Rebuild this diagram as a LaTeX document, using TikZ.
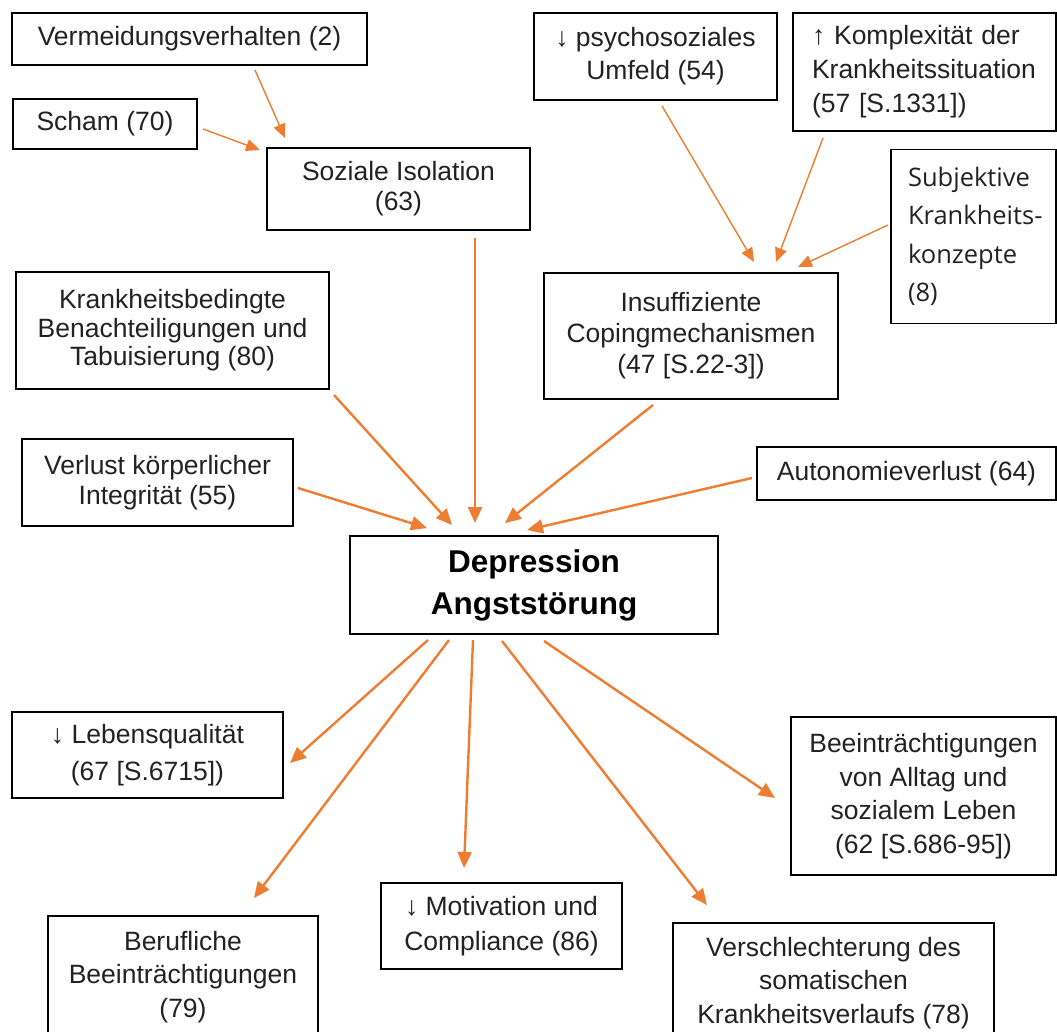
\documentclass[tikz,border=0pt]{standalone}
\usepackage{fontspec}
\setmainfont{Liberation Sans}
\newfontfamily\subjfont{Open Sans}
\usetikzlibrary{arrows.meta}
\definecolor{arrowor}{RGB}{237,125,49}
\definecolor{txt}{RGB}{34,34,34}
\begin{document}
\begin{tikzpicture}[x=1pt,y=-1pt,
  box/.style={draw=black,line width=1.3pt,inner sep=0pt,align=center,text=txt,
              font=\fontsize{26.5}{32}\selectfont},
  lbox/.style={box,align=left},
  arr/.style={draw=arrowor,line width=2.4pt,-{Triangle[length=16pt,width=14pt]}},
  sarr/.style={draw=arrowor,line width=1.4pt,-{Triangle[length=14pt,width=12pt]}}]
\useasboundingbox[fill=white] (0,0) rectangle (1057,1031);

% ---------- boxes ----------
\node[box,minimum width=355pt,minimum height=52pt] (verm) at (189.5,39) {Vermeidungsverhalten (2)};
\node[box,minimum width=184pt,minimum height=50pt] (scham) at (105,124) {Scham (70)};
\node[box,minimum width=263pt,minimum height=82pt,font=\fontsize{26.5}{30}\selectfont] (soz) at (398.5,189) {Soziale Isolation\\(63)};
\node[box,minimum width=243pt,minimum height=87pt,font=\fontsize{26.5}{33}\selectfont] (psy) at (655.5,56.5) {↓ psychosoziales\\Umfeld (54)};
\node[lbox,minimum width=263pt,minimum height=118pt,text width=225pt,inner xsep=19pt,font=\fontsize{26.5}{34}\selectfont] (kom) at (924.5,72) {↑ Komplexität der\\Krankheitssituation\\(57 [S.1331])};
\node[lbox,minimum width=165pt,minimum height=174pt,text width=131pt,inner xsep=17pt,font=\subjfont\fontsize{25.5}{38.5}\selectfont] (subj) at (973.5,236.5) {\mbox{Subjektive}\\\mbox{Krankheits-}\\\mbox{konzepte}\\\mbox{(8)}};
\node[box,minimum width=313pt,minimum height=117pt,font=\fontsize{26.5}{28.5}\selectfont] (krank) at (172.5,330.5) {Krankheitsbedingte\\Benachteiligungen und\\Tabuisierung (80)};
\node[box,minimum width=294pt,minimum height=126pt,font=\fontsize{26.5}{31}\selectfont] (insuf) at (691,336) {Insuffiziente\\Copingmechanismen\\(47 [S.22-3])};
\node[box,minimum width=271pt,minimum height=87pt,font=\fontsize{26.5}{30}\selectfont] (verl) at (157.5,482.5) {Verlust körperlicher\\Integrität (55)};
\node[box,minimum width=299pt,minimum height=53pt] (auto) at (906.5,473.5) {Autonomieverlust (64)};
\node[box,minimum width=368pt,minimum height=98pt,font=\bfseries\fontsize{31.5}{42}\selectfont,text=black] (dep) at (534,585) {Depression\\Angststörung};
\node[box,minimum width=271pt,minimum height=86pt,font=\fontsize{26.5}{37}\selectfont] (leb) at (147.5,755) {↓ Lebensqualität\\(67 [S.6715])};
\node[box,minimum width=265pt,minimum height=158pt,font=\fontsize{26.5}{33.5}\selectfont] (beein) at (923.5,796) {Beeinträchtigungen\\von Alltag und\\sozialem Leben\\(62 [S.686-95])};
\node[box,minimum width=270pt,minimum height=122pt,font=\fontsize{26.5}{33.5}\selectfont] (beruf) at (183,977) {Berufliche\\Beeinträchtigungen\\(79)};
\node[box,minimum width=241pt,minimum height=86pt,font=\fontsize{26.5}{35}\selectfont] (motiv) at (501.5,926) {↓ Motivation und\\Compliance (86)};
\node[box,minimum width=321pt,minimum height=120pt,font=\fontsize{26.5}{33.5}\selectfont] (versch) at (833.5,983) {Verschlechterung des\\somatischen\\Krankheitsverlaufs (78)};

% ---------- connector end points ----------
\coordinate (verm-out) at (255,70);   \coordinate (soz-in1) at (285,138);
\coordinate (scham-out) at (203,129); \coordinate (soz-in2) at (260,150);
\coordinate (soz-out) at (475,238);   \coordinate (dep-in1) at (475,523);
\coordinate (krank-out) at (334,395); \coordinate (dep-in2) at (452,525);
\coordinate (verl-out) at (298,488);  \coordinate (dep-in3) at (427,528);
\coordinate (insuf-out) at (653,405); \coordinate (dep-in4) at (505,523);
\coordinate (auto-out) at (752,478);  \coordinate (dep-in5) at (527,530);
\coordinate (psy-out) at (662,106);   \coordinate (insuf-in1) at (754,262);
\coordinate (kom-out) at (823,138);   \coordinate (insuf-in2) at (776,262);
\coordinate (subj-out) at (888,225);  \coordinate (insuf-in3) at (798,267);
\coordinate (dep-o1) at (428,640);    \coordinate (leb-in) at (290,763);
\coordinate (dep-o2) at (449,640);    \coordinate (beruf-in) at (254,898);
\coordinate (dep-o3) at (473,640);    \coordinate (motiv-in) at (464,868);
\coordinate (dep-o4) at (502,641);    \coordinate (versch-in) at (707,905);
\coordinate (dep-o5) at (544,641);    \coordinate (beein-in) at (775,798);

% ---------- connectors ----------
\draw[sarr] (verm-out) -- (soz-in1);
\draw[sarr] (scham-out) -- (soz-in2);
\draw[sarr] (psy-out) -- (insuf-in1);
\draw[sarr] (kom-out) -- (insuf-in2);
\draw[sarr] (subj-out) -- (insuf-in3);
\draw[arr] (soz-out) -- (dep-in1);
\draw[arr] (krank-out) -- (dep-in2);
\draw[arr] (verl-out) -- (dep-in3);
\draw[arr] (insuf-out) -- (dep-in4);
\draw[arr] (auto-out) -- (dep-in5);
\draw[arr] (dep-o1) -- (leb-in);
\draw[arr] (dep-o2) -- (beruf-in);
\draw[arr] (dep-o3) -- (motiv-in);
\draw[arr] (dep-o4) -- (versch-in);
\draw[arr] (dep-o5) -- (beein-in);
\end{tikzpicture}
\end{document}
